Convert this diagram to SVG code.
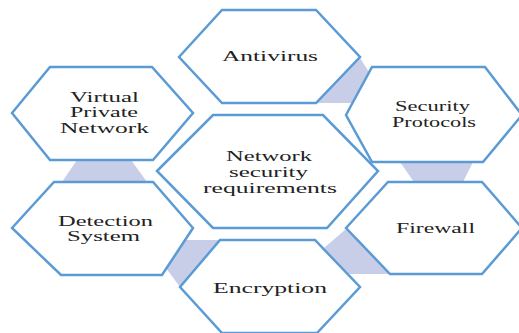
<svg xmlns="http://www.w3.org/2000/svg" width="519" height="333" viewBox="0 0 519 333">
  <style>
    .hex { fill: #ffffff; stroke: #5b9bd5; stroke-width: 2.5; stroke-linejoin: miter; }
    .link { fill: #c8cee8; stroke: none; }
    .lbl { font-family: "Liberation Serif", "Times New Roman", serif; font-size: 15px; fill: #222222; }
  </style>
  <rect width="519" height="333" fill="#ffffff"/>

  <!-- shaded connectors between neighbouring hexagons -->
  <g id="connectors">
    <polygon class="link" points="360,58 369,72 352,103 316,103"/>
    <polygon class="link" points="400,162 473,162 463,182 414,182"/>
    <polygon class="link" points="346,229 324,248 349,274 390,274"/>
    <polygon class="link" points="185,240 220,240 180,287 166,268"/>
    <polygon class="link" points="77,160 131,160 147,182 62,182"/>
  </g>

  <g id="antivirus">
    <polygon class="hex" points="179,57 222,10 316,10 360,57 316,103 222,103"/>
    <text class="lbl" x="222" y="61" textLength="96" lengthAdjust="spacingAndGlyphs">Antivirus</text>
  </g>

  <g id="security-protocols">
    <polygon class="hex" points="346,115 372,67 485,67 522,115 483,162 372,162"/>
    <text class="lbl" x="395" y="111" textLength="75" lengthAdjust="spacingAndGlyphs">Security</text>
    <text class="lbl" x="392" y="127" textLength="84" lengthAdjust="spacingAndGlyphs">Protocols</text>
  </g>

  <g id="vpn">
    <polygon class="hex" points="12,113 50,67 152,67 193,113 153,160 50,160"/>
    <text class="lbl" x="70" y="102" textLength="69" lengthAdjust="spacingAndGlyphs">Virtual</text>
    <text class="lbl" x="70" y="117" textLength="68" lengthAdjust="spacingAndGlyphs">Private</text>
    <text class="lbl" x="60" y="133" textLength="89" lengthAdjust="spacingAndGlyphs">Network</text>
  </g>

  <g id="network-security">
    <polygon class="hex" points="157,171 213,115 323,115 378,171 327,228 213,228"/>
    <text class="lbl" x="226" y="161" textLength="86" lengthAdjust="spacingAndGlyphs">Network</text>
    <text class="lbl" x="229" y="177" textLength="79" lengthAdjust="spacingAndGlyphs">security</text>
    <text class="lbl" x="203" y="193" textLength="134" lengthAdjust="spacingAndGlyphs">requirements</text>
  </g>

  <g id="detection-system">
    <polygon class="hex" points="12,228 54,182 153,182 193,228 162,275 61,275"/>
    <text class="lbl" x="58" y="226" textLength="95" lengthAdjust="spacingAndGlyphs">Detection</text>
    <text class="lbl" x="67" y="241" textLength="73" lengthAdjust="spacingAndGlyphs">System</text>
  </g>

  <g id="firewall">
    <polygon class="hex" points="346,228 388,182 482,182 522,228 482,274 390,274"/>
    <text class="lbl" x="396" y="233" textLength="79" lengthAdjust="spacingAndGlyphs">Firewall</text>
  </g>

  <g id="encryption">
    <polygon class="hex" points="180,287 220,240 315,240 360,287 317,333 222,333"/>
    <text class="lbl" x="213" y="293" textLength="114" lengthAdjust="spacingAndGlyphs">Encryption</text>
  </g>
</svg>
